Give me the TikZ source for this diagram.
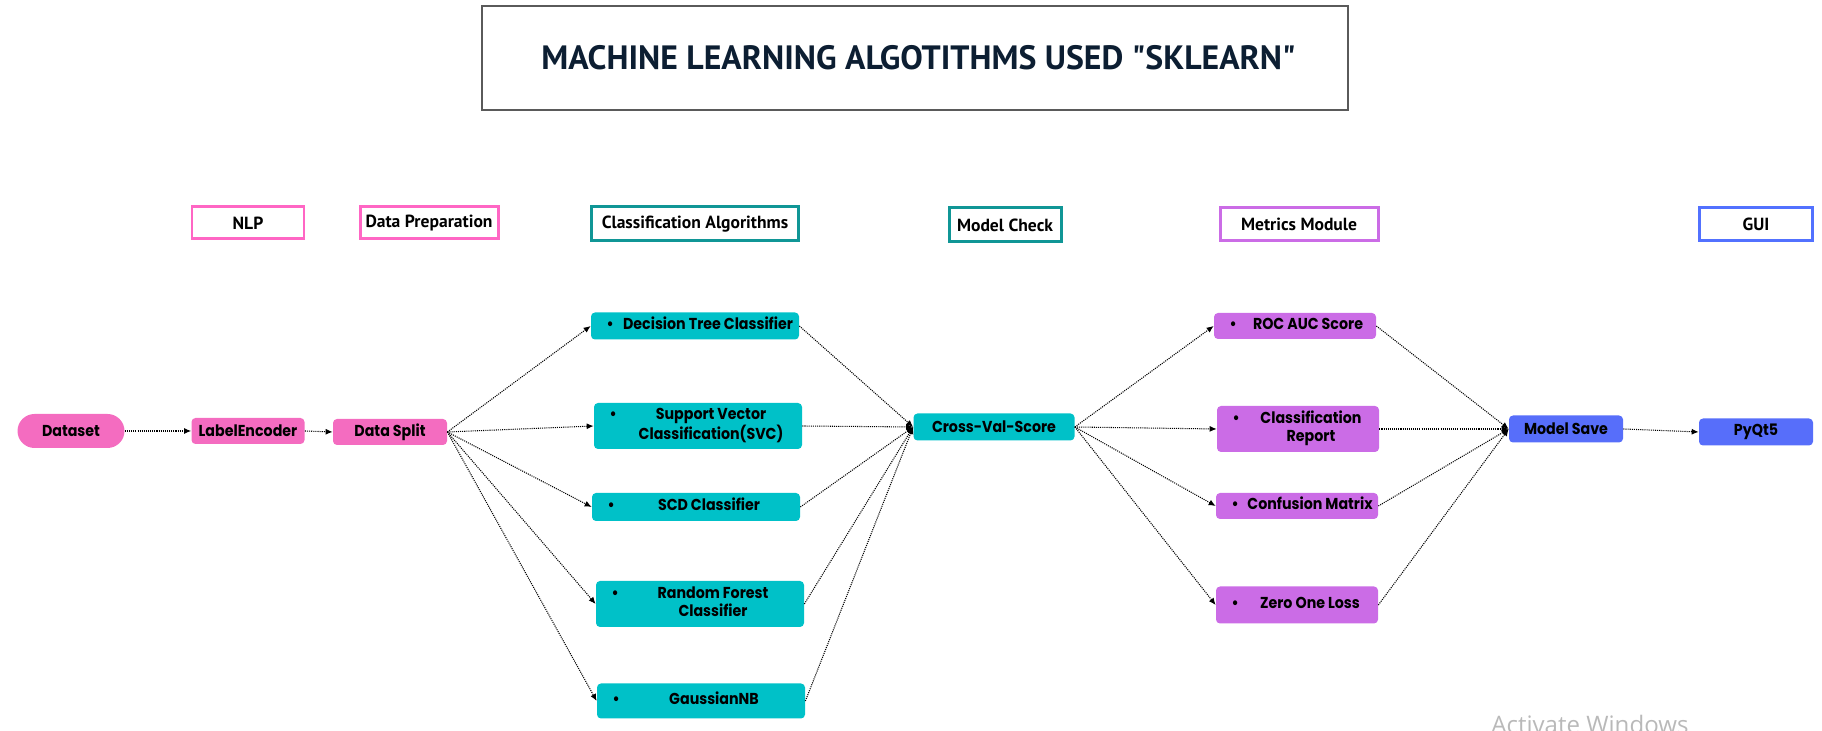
\documentclass[tikz,border=0pt]{standalone}
\usepackage{fontspec}
\usepackage{tikz}
\usetikzlibrary{arrows.meta}
\newfontfamily\boxfont{Poppins}[FakeStretch=0.9]
\newfontfamily\headfont{PT Sans}
\newfontfamily\winfont{Open Sans}
\definecolor{pinkfill}{RGB}{244,108,192}
\definecolor{tealfill}{RGB}{0,193,200}
\definecolor{violetfill}{RGB}{203,108,230}
\definecolor{bluefill}{RGB}{87,110,250}
\definecolor{pinkline}{RGB}{255,102,196}
\definecolor{tealline}{RGB}{16,150,150}
\definecolor{violetline}{RGB}{203,108,230}
\definecolor{blueline}{RGB}{82,113,255}
\definecolor{titleline}{RGB}{90,90,90}
\definecolor{titleink}{RGB}{12,30,50}
\definecolor{markgray}{RGB}{185,185,185}
\newcommand{\bulletitem}[2]{\makebox[0pt][l]{\hspace{3.1mm}\textbullet}%
  \makebox[#1]{\hspace{5.2mm}\begin{tabular}[t]{@{}c@{}}#2\end{tabular}}}
\tikzset{
  flow/.style={-{Latex[length=1.4mm,width=1.2mm]}, line width=0.6pt,
               dash pattern=on 0.6pt off 0.6pt},
  boxtext/.style={font=\boxfont\bfseries\fontsize{9}{10}\selectfont},
  pill/.style={boxtext, fill=pinkfill, rounded corners=0.34cm,
               minimum width=2.14cm, minimum height=0.68cm, inner sep=0pt},
  procbox/.style={boxtext, rounded corners=0.08cm, inner xsep=0pt,
                  inner ysep=2pt, align=center},
  prepbox/.style={procbox, fill=pinkfill},
  algbox/.style={procbox, fill=tealfill, minimum width=4.16cm},
  checkbox/.style={procbox, fill=tealfill},
  metricbox/.style={procbox, fill=violetfill, minimum width=3.24cm},
  guibox/.style={procbox, fill=bluefill},
  header/.style={draw, line width=1.7pt, fill=white, inner sep=0pt,
                 minimum height=0.64cm,
                 font=\headfont\bfseries\fontsize{10}{12}\selectfont},
  pinkhead/.style={header, draw=pinkline},
  tealhead/.style={header, draw=tealline},
  violethead/.style={header, draw=violetline},
  bluehead/.style={header, draw=blueline},
  titlebox/.style={draw=titleline, line width=1.2pt, fill=white,
                   minimum width=17.32cm, minimum height=2.08cm,
                   text=titleink,
                   font=\headfont\bfseries\fontsize{19.2}{22}\selectfont},
  winmark/.style={text=markgray, inner sep=0pt,
                  font=\winfont\fontsize{13.7}{15}\selectfont},
}

\begin{document}
\begin{tikzpicture}[x=1cm,y=1cm]
  \path[use as bounding box] (0,0) rectangle (36.44,14.62);

  % Title.
  \node[titlebox] (title) at (18.30,13.46)
    {\hspace{1.4mm}MACHINE LEARNING ALGOTITHMS USED "SKLEARN"};

  % Stage headers.
  \node[pinkhead, minimum width=2.24cm] (hnlp) at (4.96,10.16) {NLP};
  \node[pinkhead, minimum width=2.76cm] (hprep) at (8.58,10.16) {Data Preparation};
  \node[tealhead, minimum width=4.14cm, minimum height=0.68cm] (hclass) at (13.90,10.14)
    {Classification Algorithms};
  \node[tealhead, minimum width=2.24cm, minimum height=0.68cm] (hcheck) at (20.10,10.12)
    {Model Check};
  \node[violethead, minimum width=3.16cm, minimum height=0.66cm] (hmetric) at (25.98,10.14)
    {Metrics Module};
  \node[bluehead, minimum width=2.26cm, minimum height=0.66cm] (hgui) at (35.12,10.14) {GUI};

  % Preparation chain.
  \node[pill] (dataset) at (1.42,6.00) {Dataset};
  \node[prepbox, minimum width=2.26cm, minimum height=0.52cm] (labelenc) at (4.96,6.00)
    {LabelEncoder};
  \node[prepbox, minimum width=2.28cm, minimum height=0.52cm] (datasplit) at (7.80,5.98)
    {Data Split};

  % Classification algorithms.
  \node[algbox, minimum height=0.54cm] (dtree) at (13.90,8.10)
    {\bulletitem{4.16cm}{Decision Tree Classifier}};
  \node[algbox, minimum height=0.92cm] (svc) at (13.96,6.10)
    {\bulletitem{4.16cm}{Support Vector\\Classification(SVC)}};
  \node[algbox, minimum height=0.56cm] (scd) at (13.92,4.48)
    {\bulletitem{4.16cm}{SCD Classifier}};
  \node[algbox, minimum height=0.92cm] (rforest) at (14.00,2.54)
    {\bulletitem{4.16cm}{Random Forest\\Classifier}};
  \node[algbox, minimum height=0.70cm] (gnb) at (14.02,0.60)
    {\bulletitem{4.16cm}{GaussianNB}};

  % Model check.
  \node[checkbox, minimum width=3.22cm, minimum height=0.54cm] (crossval) at (19.88,6.08)
    {Cross-Val-Score};

  % Metrics module.
  \node[metricbox, minimum height=0.52cm] (roc) at (25.90,8.10)
    {\bulletitem{3.24cm}{ROC AUC Score}};
  \node[metricbox, minimum height=0.92cm] (clsrep) at (25.96,6.04)
    {\bulletitem{3.24cm}{Classification\\Report}};
  \node[metricbox, minimum height=0.52cm] (confmat) at (25.94,4.50)
    {\bulletitem{3.24cm}{Confusion Matrix}};
  \node[metricbox, minimum height=0.74cm] (zeroone) at (25.94,2.52)
    {\bulletitem{3.24cm}{Zero One Loss}};

  % Saving and GUI.
  \node[guibox, minimum width=2.28cm, minimum height=0.54cm] (modelsave) at (31.32,6.04)
    {Model Save};
  \node[guibox, minimum width=2.28cm, minimum height=0.54cm] (pyqt) at (35.12,5.98)
    {PyQt5};

  % Dotted connectors.
  \draw[flow] (dataset.east) -- (labelenc.west);
  \draw[flow] (labelenc.east) -- (datasplit.west);
  \draw[flow] (datasplit.east) -- (dtree.west);
  \draw[flow] (datasplit.east) -- (svc.west);
  \draw[flow] (datasplit.east) -- (scd.west);
  \draw[flow] (datasplit.east) -- (rforest.west);
  \draw[flow] (datasplit.east) -- (gnb.west);
  \draw[flow] (dtree.east) -- (crossval.west);
  \draw[flow] (svc.east) -- (crossval.west);
  \draw[flow] (scd.east) -- (crossval.west);
  \draw[flow] (rforest.east) -- (crossval.west);
  \draw[flow] (gnb.east) -- (crossval.west);
  \draw[flow] (crossval.east) -- (roc.west);
  \draw[flow] (crossval.east) -- (clsrep.west);
  \draw[flow] (crossval.east) -- (confmat.west);
  \draw[flow] (crossval.east) -- (zeroone.west);
  \draw[flow] (roc.east) -- (modelsave.west);
  \draw[flow] (clsrep.east) -- (modelsave.west);
  \draw[flow] (confmat.east) -- (modelsave.west);
  \draw[flow] (zeroone.east) -- (modelsave.west);
  \draw[flow] (modelsave.east) -- (pyqt.west);

  % Screen watermark, cut by the lower edge.
  \begin{scope}
    \clip (0,0) rectangle (36.44,14.62);
    \node[winmark, anchor=base west] (winmark) at (29.82,-0.06) {Activate Windows};
  \end{scope}
\end{tikzpicture}
\end{document}
